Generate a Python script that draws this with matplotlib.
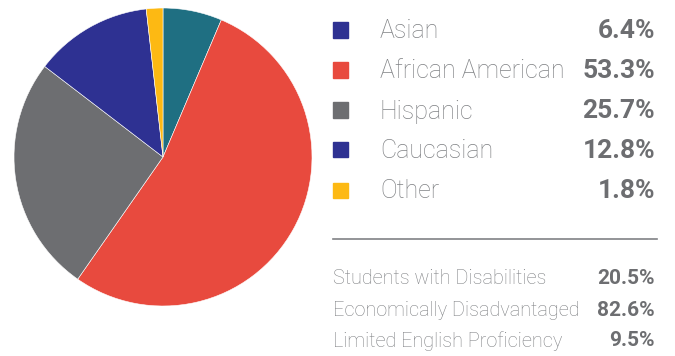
import matplotlib.pyplot as plt

# enrollment by group
groups = ['Asian', 'African American', 'Hispanic', 'Caucasian', 'Other']
shares = [6.4, 53.3, 25.7, 12.8, 1.8]
slice_colors = ['#1f6f82', '#e84a3e', '#6d6e71', '#2e3192', '#fdb913']
key_colors = ['#2e3192', '#e84a3e', '#6d6e71', '#2e3192', '#fdb913']

# other student indicators
indicators = ['Students with Disabilities', 'Economically Disadvantaged',
              'Limited English Proficiency']
indicator_values = [20.5, 82.6, 9.5]

W, H = 675, 356
fig = plt.figure(figsize=(W / 100, H / 100), dpi=100)

def fx(x):
    return x / W

def fy(y):
    return 1 - y / H

# pie on the left
cx, cy, r = 163, 157, 149
ax = fig.add_axes([fx(cx - r), fy(cy + r), 2 * r / W, 2 * r / H])
ax.pie(shares, colors=slice_colors, startangle=90, counterclock=False,
       wedgeprops=dict(edgecolor='white', linewidth=0.4))
ax.set_xlim(-1, 1)
ax.set_ylim(-1, 1)
ax.set_aspect('auto')
ax.axis('off')

label_color = '#808285'
value_color = '#6d6e71'

# key with values
for i, (g, s, c) in enumerate(zip(groups, shares, key_colors)):
    y = 30 + 40 * i
    fig.patches.append(plt.Rectangle((fx(333), fy(y + 7.5)), 15 / W, 15 / H,
                                     transform=fig.transFigure, color=c))
    fig.text(fx(380), fy(y + 1.5), g, fontsize=18, family='Roboto', weight='light',
             color=label_color, va='center', ha='left')
    fig.text(fx(655), fy(y + 1.5), f'{s}%', fontsize=19, family='Roboto', weight='bold',
             color=value_color, va='center', ha='right')

# divider
fig.add_artist(plt.Line2D([fx(333), fx(657)], [fy(239), fy(239)],
                          color='#808285', linewidth=1.2))

for i, (name, v) in enumerate(zip(indicators, indicator_values)):
    y = 279 + 31 * i
    fig.text(fx(333), fy(y), name, fontsize=14.3, family='Roboto', weight='light',
             color=label_color, va='center', ha='left')
    fig.text(fx(655), fy(y), f'{v}%', fontsize=15, family='Roboto', weight='bold',
             color=value_color, va='center', ha='right')

fig.savefig('out.png', dpi=100)
